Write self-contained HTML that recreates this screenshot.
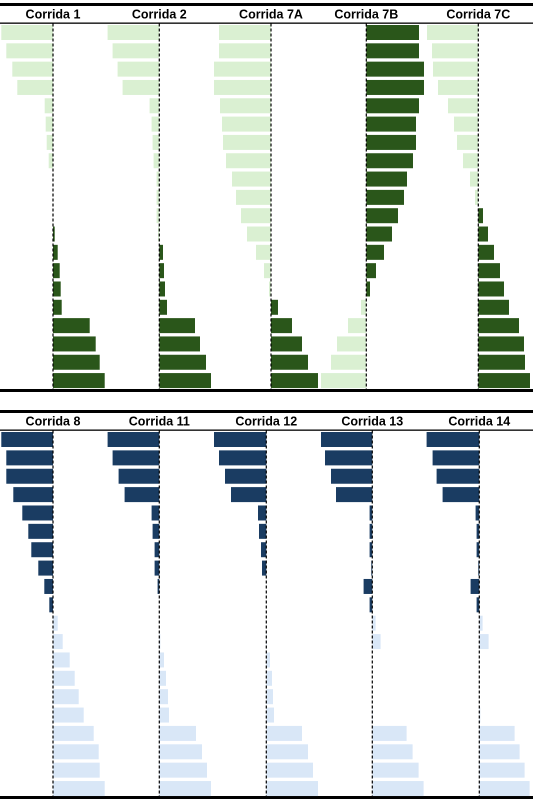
<!DOCTYPE html>
<html><head><meta charset="utf-8"><style>
html,body{margin:0;padding:0;background:#fff;width:533px;height:800px;overflow:hidden}
svg text{font-family:"Liberation Sans",Arial,sans-serif;font-weight:bold;font-size:12.5px}
</style></head><body>
<svg id="chart" width="533" height="800" xmlns="http://www.w3.org/2000/svg"></svg>
<script>
// Top panel data (px-scale units, negative = left)
const topTitles = ["Corrida 1","Corrida 2","Corrida 7A","Corrida 7B","Corrida 7C"];
const topC1 = [-51.7,-46.7,-40.7,-35.7,-8.3,-7.3,-6.3,-4.3,0,0,0,1.7,4.7,6.7,7.7,8.7,36.7,42.7,46.7,51.7];
const topC2 = [-51.7,-46.7,-41.7,-36.7,-9.7,-7.7,-6.7,-5.7,-2.7,-2.7,-2.7,-1.3,3.7,4.7,5.7,7.7,35.7,40.7,46.7,51.7];
const topC7A = [-52,-52,-57,-57,-51,-49,-48,-45,-39,-35,-30,-24,-15,-7,-2,7,21,31,37,47];
const topC7B = [52.7,52.7,57.7,57.7,52.7,49.7,49.7,46.7,40.7,37.7,31.7,25.7,17.7,9.7,3.7,-5.3,-18.3,-29.3,-35.3,-45.3];
const topC7C = [-51.3,-46.3,-45.3,-40.3,-30.3,-24.3,-21.3,-15.3,-8.3,-3.3,4.7,9.7,15.7,21.7,25.7,30.7,40.7,45.7,46.7,51.7];
// Bottom panel data
const botTitles = ["Corrida 8","Corrida 11","Corrida 12","Corrida 13","Corrida 14"];
const botC8 = [-51.7,-46.7,-46.7,-39.7,-30.7,-24.7,-21.7,-14.7,-8.7,-3.7,4.7,9.7,16.7,21.7,25.7,30.7,40.7,45.7,46.7,51.7];
const botC11 = [-51.7,-46.7,-40.7,-34.7,-7.7,-6.7,-4.7,-4.7,-1.7,0,0,1,4.7,6.7,8.7,9.7,36.7,42.7,47.7,51.7];
const botC12 = [-52.3,-47.3,-41.3,-35.3,-8.3,-7.3,-5.3,-4.3,0,0,0,0.5,3.7,5.7,6.7,7.7,35.7,41.7,46.7,51.7];
const botC13 = [-51.3,-47.3,-41.3,-36.3,-2.7,-2.7,-2.7,-1,-8.7,-2.7,3.3,8.3,0,0,0,0.5,34.3,40.3,46.3,51.3];
const botC14 = [-52.7,-46.7,-42.7,-36.7,-3.7,-2.7,-2.7,-1,-8.7,-2.7,3.3,9.3,0,0,0,1,35.3,40.3,45.3,50.3];

const svg = document.getElementById('chart');
const NS = "http://www.w3.org/2000/svg";
function mk(tag, attrs){const e=document.createElementNS(NS,tag);for(const k in attrs)e.setAttribute(k,attrs[k]);svg.appendChild(e);return e;}

function drawPanel(p){
  // frame lines
  const t = mk('rect',{x:0,y:p.topLine,width:533,height:3,fill:'#000'});
  
  
  const h = mk('rect',{x:0,y:p.headLine,width:533,height:1.3,fill:'#000'});
  
  
  const b = mk('rect',{x:0,y:p.botLine,width:533,height:3,fill:'#000'});
  
  
  const yPos = i => p.y0 + i*p.pitch;
  p.series.forEach((vals, s) => {
    const cx = p.centers[s];
    vals.forEach((v, i) => {
      if (v === 0) return;
      const w = Math.abs(v)*p.scale;
      const r = mk('rect',{x: v<0 ? cx-w : cx, y: yPos(i), width: w, height: 15, fill: v<0 ? p.negColor : p.posColor});
      
      
    });
    const ln = mk('line',{x1:cx,y1:p.headLine+1,x2:cx,y2:p.botLine,stroke:'#000','stroke-width':1.2,'stroke-dasharray':'3,2'});
    
    
    const tx = mk('text',{x:cx,y:p.headLine-4,'text-anchor':'middle',fill:'#000'});
    tx.textContent = p.titles[s];
    
    
  });
}

drawPanel({key:'top', titles:topTitles, series:[topC1,topC2,topC7A,topC7B,topC7C],
  centers:[53,159.3,271,366.3,478.3], topLine:3, headLine:22.5, botLine:389,
  y0:25, pitch:18.32, scale:1, negColor:'#daf0d2', posColor:'#2a561a'});
drawPanel({key:'bottom', titles:botTitles, series:[botC8,botC11,botC12,botC13,botC14],
  centers:[53,159.3,266.3,372.3,479.3], topLine:410, headLine:429.5, botLine:796,
  y0:432, pitch:18.37, scale:1, negColor:'#1a3c62', posColor:'#d9e7f7'});
</script>
</body></html>
